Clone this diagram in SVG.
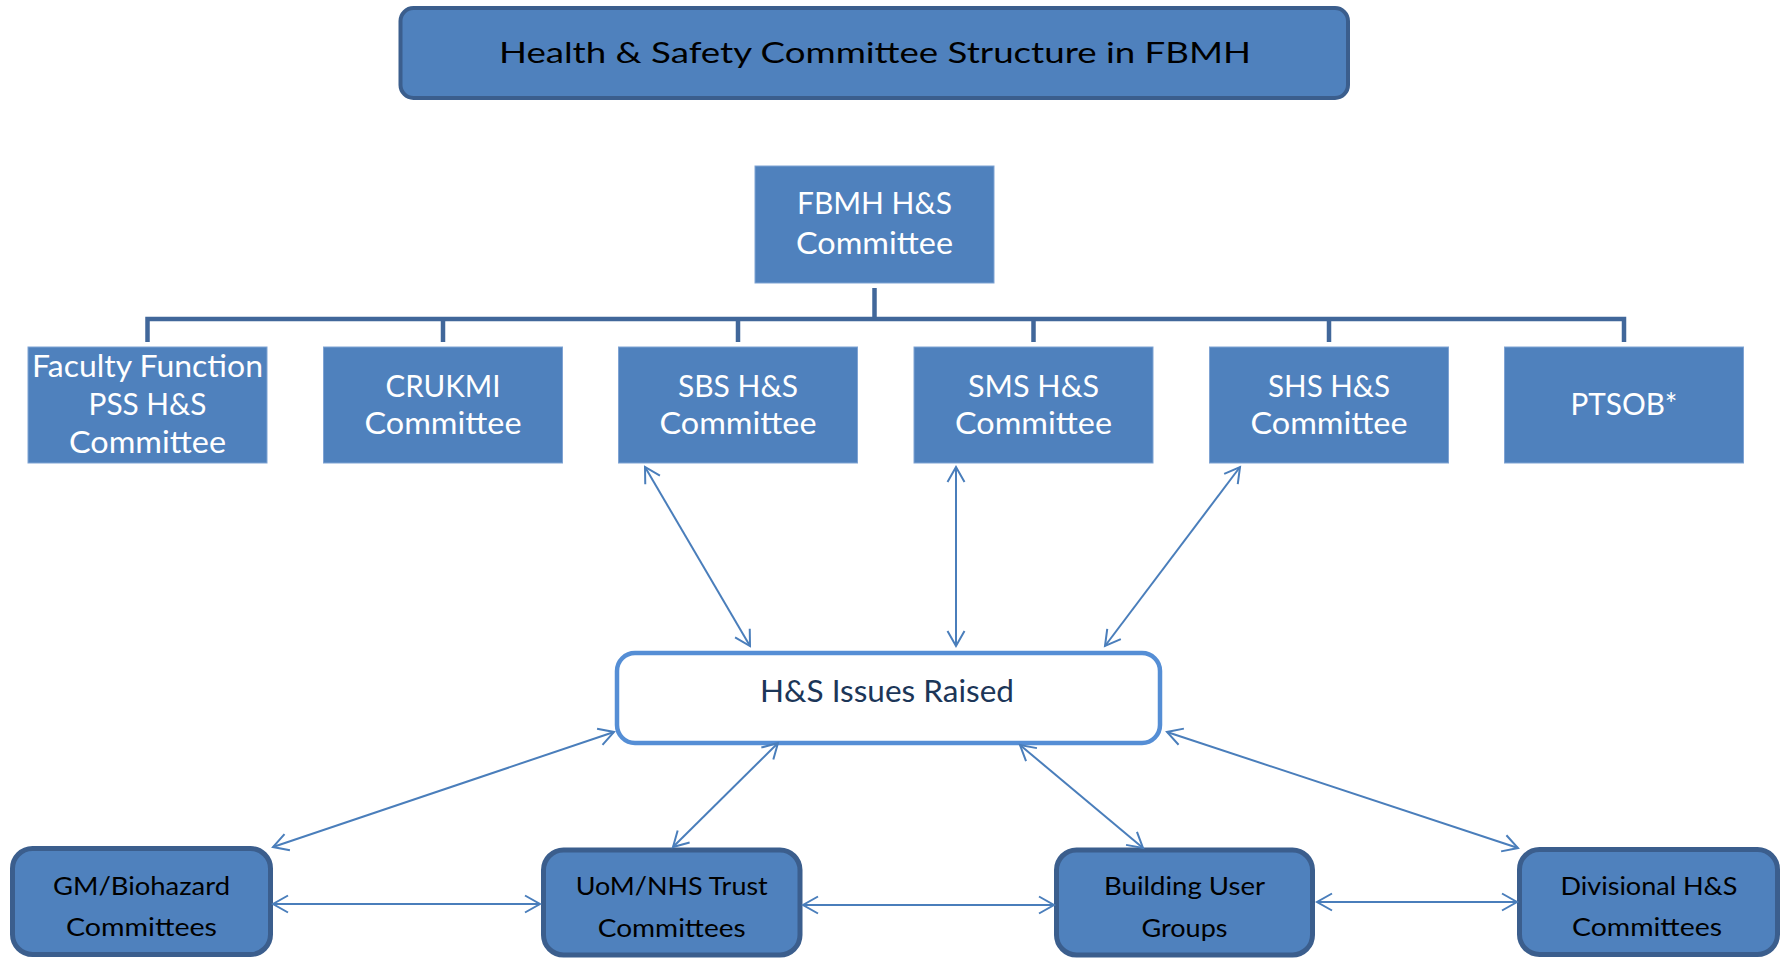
<svg xmlns="http://www.w3.org/2000/svg" width="1781" height="958" viewBox="0 0 1781 958">
  <defs>
    <style>
      .title-box { fill: #4f81bd; stroke: #3b5e8d; stroke-width: 4; }
      .org-box { fill: #4f81bd; stroke: #7fa3d3; stroke-width: 1; }
      .group-box { fill: #4f81bd; stroke: #3b5e8d; stroke-width: 5; }
      .issues-box { fill: #ffffff; stroke: #558ed5; stroke-width: 4.5; }
      .tree { fill: none; stroke: #41679a; stroke-width: 4.5; stroke-linecap: butt; }
      .link { fill: none; stroke: #4a7ebb; stroke-width: 2; marker-start: url(#head); marker-end: url(#head); }
      text { font-family: Lato, "Liberation Sans", sans-serif; text-anchor: middle; }
      .t-title { font-size: 28px; fill: #000000; }
      .t-org { font-size: 31px; fill: #ffffff; }
      .t-issues { font-size: 31px; fill: #1c3658; }
      .t-group { font-size: 25px; fill: #000000; }
    </style>
    <marker id="head" markerUnits="userSpaceOnUse" markerWidth="20" markerHeight="20" refX="0" refY="0" orient="auto-start-reverse" overflow="visible">
      <path d="M-15,-8.5 L0,0 L-15,8.5" fill="none" stroke="#4a7ebb" stroke-width="2"/>
    </marker>
  </defs>

  <!-- heading -->
  <g id="title">
    <rect class="title-box" x="400.5" y="8" width="947.5" height="90" rx="13"/>
    <text class="t-title" x="875" y="63" textLength="752" lengthAdjust="spacingAndGlyphs">Health &amp; Safety Committee Structure in FBMH</text>
  </g>

  <!-- reporting tree -->
  <g id="tree-connectors">
    <path class="tree" d="M874.5,288 V319"/>
    <path class="tree" d="M147.5,342 V319 H1624 V342"/>
    <path class="tree" d="M443,319 V342 M738,319 V342 M1033.5,319 V342 M1329,319 V342"/>
  </g>

  <g id="fbmh">
    <rect class="org-box" x="755" y="166" width="239" height="117"/>
    <text class="t-org" x="874.5" y="214" textLength="155" lengthAdjust="spacingAndGlyphs">FBMH H&amp;S</text>
    <text class="t-org" x="874.5" y="254" textLength="157" lengthAdjust="spacingAndGlyphs">Committee</text>
  </g>

  <g id="faculty-pss">
    <rect class="org-box" x="28" y="347" width="239" height="116"/>
    <text class="t-org" x="147.5" y="377" textLength="231" lengthAdjust="spacingAndGlyphs">Faculty Function</text>
    <text class="t-org" x="147.5" y="415" textLength="118" lengthAdjust="spacingAndGlyphs">PSS H&amp;S</text>
    <text class="t-org" x="147.5" y="453" textLength="157" lengthAdjust="spacingAndGlyphs">Committee</text>
  </g>

  <g id="crukmi">
    <rect class="org-box" x="323.5" y="347" width="239" height="116"/>
    <text class="t-org" x="443" y="397" textLength="115" lengthAdjust="spacingAndGlyphs">CRUKMI</text>
    <text class="t-org" x="443" y="434" textLength="157" lengthAdjust="spacingAndGlyphs">Committee</text>
  </g>

  <g id="sbs">
    <rect class="org-box" x="618.5" y="347" width="239" height="116"/>
    <text class="t-org" x="738" y="397" textLength="120" lengthAdjust="spacingAndGlyphs">SBS H&amp;S</text>
    <text class="t-org" x="738" y="434" textLength="157" lengthAdjust="spacingAndGlyphs">Committee</text>
  </g>

  <g id="sms">
    <rect class="org-box" x="914" y="347" width="239" height="116"/>
    <text class="t-org" x="1033.5" y="397" textLength="131" lengthAdjust="spacingAndGlyphs">SMS H&amp;S</text>
    <text class="t-org" x="1033.5" y="434" textLength="157" lengthAdjust="spacingAndGlyphs">Committee</text>
  </g>

  <g id="shs">
    <rect class="org-box" x="1209.5" y="347" width="239" height="116"/>
    <text class="t-org" x="1329" y="397" textLength="122" lengthAdjust="spacingAndGlyphs">SHS H&amp;S</text>
    <text class="t-org" x="1329" y="434" textLength="157" lengthAdjust="spacingAndGlyphs">Committee</text>
  </g>

  <g id="ptsob">
    <rect class="org-box" x="1504.5" y="347" width="239" height="116"/>
    <text class="t-org" x="1624" y="415" textLength="107" lengthAdjust="spacingAndGlyphs">PTSOB*</text>
  </g>

  <!-- central issues hub -->
  <g id="issues">
    <rect class="issues-box" x="617" y="653" width="543" height="90" rx="18"/>
    <text class="t-issues" x="887" y="702" textLength="254" lengthAdjust="spacingAndGlyphs">H&amp;S Issues Raised</text>
  </g>

  <!-- feeder groups -->
  <g id="gm-biohazard">
    <rect class="group-box" x="12.5" y="848.5" width="258" height="106" rx="20"/>
    <text class="t-group" x="141.5" y="895" textLength="177" lengthAdjust="spacingAndGlyphs">GM/Biohazard</text>
    <text class="t-group" x="141.5" y="936" textLength="151" lengthAdjust="spacingAndGlyphs">Committees</text>
  </g>

  <g id="uom-nhs">
    <rect class="group-box" x="543.5" y="850" width="256.5" height="105" rx="20"/>
    <text class="t-group" x="671.7" y="895" textLength="192" lengthAdjust="spacingAndGlyphs">UoM/NHS Trust</text>
    <text class="t-group" x="671.7" y="937" textLength="148" lengthAdjust="spacingAndGlyphs">Committees</text>
  </g>

  <g id="building-users">
    <rect class="group-box" x="1056.5" y="850" width="256" height="105" rx="20"/>
    <text class="t-group" x="1184.5" y="895" textLength="161" lengthAdjust="spacingAndGlyphs">Building User</text>
    <text class="t-group" x="1184.5" y="937" textLength="86" lengthAdjust="spacingAndGlyphs">Groups</text>
  </g>

  <g id="divisional">
    <rect class="group-box" x="1519.5" y="849.5" width="258" height="105" rx="20"/>
    <text class="t-group" x="1649" y="895" textLength="177" lengthAdjust="spacingAndGlyphs">Divisional H&amp;S</text>
    <text class="t-group" x="1647" y="936" textLength="150" lengthAdjust="spacingAndGlyphs">Committees</text>
  </g>

  <!-- two-way links -->
  <g id="connectors">
    <line class="link" x1="645" y1="467" x2="750" y2="646"/>
    <line class="link" x1="956" y1="467" x2="956" y2="646"/>
    <line class="link" x1="1240" y1="467" x2="1105" y2="646"/>
    <line class="link" x1="614" y1="732" x2="273" y2="847"/>
    <line class="link" x1="778" y1="743" x2="673" y2="847"/>
    <line class="link" x1="1020" y1="745" x2="1143" y2="848"/>
    <line class="link" x1="1167" y1="732" x2="1518" y2="848"/>
    <line class="link" x1="273" y1="904" x2="540" y2="904"/>
    <line class="link" x1="803" y1="905" x2="1054" y2="905"/>
    <line class="link" x1="1317" y1="902" x2="1517" y2="902"/>
  </g>
</svg>
